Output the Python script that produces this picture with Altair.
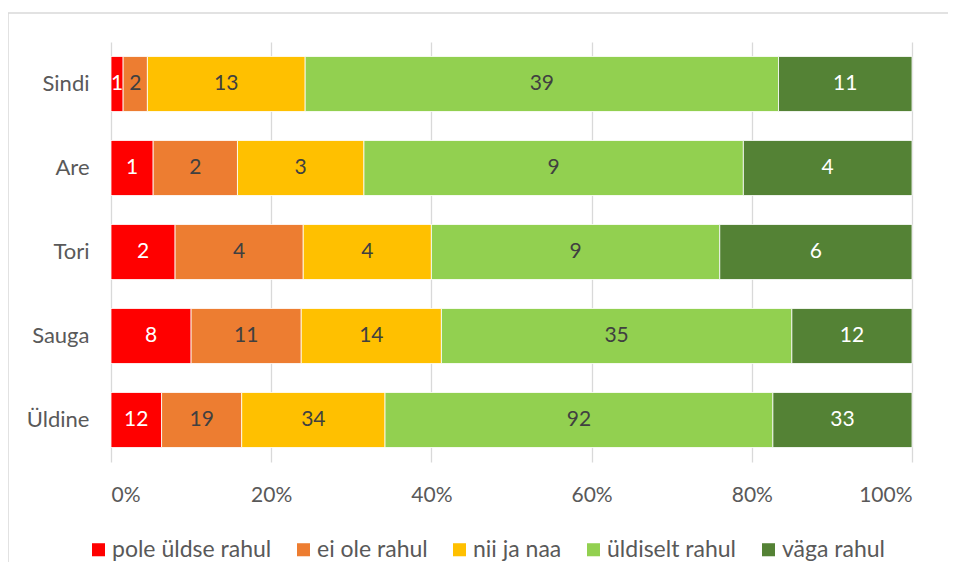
import altair as alt
import pandas as pd

categories = ["Sindi", "Are", "Tori", "Sauga", "Üldine"]
segments = ["pole üldse rahul", "ei ole rahul", "nii ja naa", "üldiselt rahul", "väga rahul"]
colors = ["#FF0000", "#ED7D31", "#FFC000", "#92D050", "#548235"]
sindi = [1, 2, 13, 39, 11]
are = [1, 2, 3, 9, 4]
tori = [2, 4, 4, 9, 6]
sauga = [8, 11, 14, 35, 12]
uldine = [12, 19, 34, 92, 33]
x_ticks = [0, 0.2, 0.4, 0.6, 0.8, 1.0]

series = dict(zip(categories, [sindi, are, tori, sauga, uldine]))
rows = []
for c in categories:
    for i, s in enumerate(segments):
        rows.append({"cat": c, "seg": s, "n": series[c][i], "order": i})
df = pd.DataFrame(rows)

FONT = "Lato"
GRAY = "#595959"

base = (
    alt.Chart(df)
    .transform_joinaggregate(total="sum(n)", groupby=["cat"])
    .transform_window(cum="sum(n)", sort=[alt.SortField("order")], groupby=["cat"], frame=[None, 0])
    .transform_calculate(
        start="(datum.cum - datum.n) / datum.total",
        end="datum.cum / datum.total",
        mid="(datum.cum - datum.n / 2) / datum.total",
    )
)

yenc = alt.Y(
    "cat:N",
    sort=categories,
    title=None,
    scale=alt.Scale(paddingInner=0.345, paddingOuter=0.1725),
    axis=alt.Axis(domain=False, ticks=False, grid=False, labelPadding=22,
                  labelFontSize=22, labelColor=GRAY, labelFont=FONT),
)

bars = base.mark_bar(stroke="white", strokeWidth=0.8).encode(
    x=alt.X(
        "start:Q",
        scale=alt.Scale(domain=[0, 1], nice=False),
        title=None,
        axis=alt.Axis(values=x_ticks, format=".0%", domain=False, ticks=False,
                      grid=True, gridColor="#D9D9D9", gridWidth=1.3,
                      labelPadding=22, labelFontSize=21, labelColor=GRAY, labelFont=FONT),
    ),
    x2="end:Q",
    y=yenc,
    color=alt.Color(
        "seg:N",
        scale=alt.Scale(domain=segments, range=colors),
        title=None,
        legend=alt.Legend(
            orient="none", legendX=-24, legendY=496, direction="horizontal",
            columns=5, columnPadding=20, symbolType="square", symbolSize=170,
            symbolStrokeWidth=0, labelFontSize=23, labelColor=GRAY, labelFont=FONT,
            labelOffset=2,
        ),
    ),
    order=alt.Order("order:Q"),
)

texts = base.mark_text(fontSize=21, font=FONT).encode(
    x="mid:Q",
    y=alt.Y("cat:N", sort=categories),
    text="n:Q",
    color=alt.condition(
        alt.FieldOneOfPredicate(field="seg", oneOf=["pole üldse rahul", "väga rahul"]),
        alt.value("white"),
        alt.value("#404040"),
    ),
)

frame = pd.DataFrame({"a": [0]})
top_line = alt.Chart(frame).mark_rule(stroke="#D9D9D9", strokeWidth=1.5).encode(
    x=alt.value(-103), x2=alt.value(900), y=alt.value(-29)
)
left_line = alt.Chart(frame).mark_rule(stroke="#D9D9D9", strokeWidth=1.5).encode(
    x=alt.value(-103), y=alt.value(-29), y2=alt.value(600)
)

chart = (
    alt.layer(top_line, left_line, bars, texts)
    .properties(
        width=801, height=420, autosize="none",
        padding={"left": 103, "top": 34, "right": 36, "bottom": 100},
    )
    .configure_view(stroke=None)
)

chart.save("out.html", embed_options={"renderer": "svg", "actions": False})
